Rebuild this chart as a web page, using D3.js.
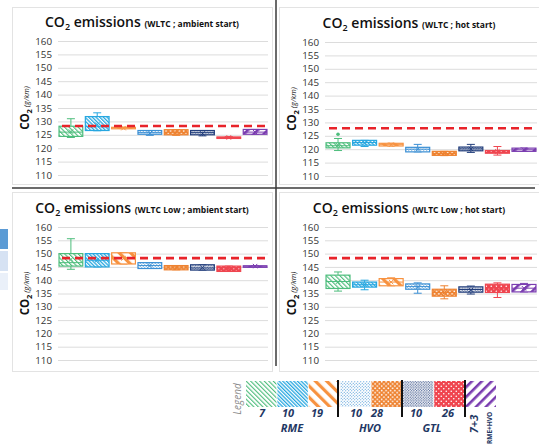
<!DOCTYPE html>
<html>
<head>
<meta charset="utf-8">
<script src="https://cdn.jsdelivr.net/npm/d3@7"></script>
<style>
  html, body { margin: 0; padding: 0; background: #fff; }
  svg { display: block; }
  text { font-family: "Open Sans", "DejaVu Sans", sans-serif; }
</style>
</head>
<body>
<svg id="chart" width="539" height="446"></svg>
<script>
// ---- data -------------------------------------------------------------
const fuels = ["RME 7", "RME 10", "RME 19", "HVO 10", "HVO 28", "GTL 10", "GTL 26", "RME+HVO 7+3"];
const fuelColors = ["#4dbd7c", "#27a7e0", "#f79240", "#3b8fd4", "#ee8230", "#233f7c", "#ef4650", "#7a3db0"];
const yTicks = [110, 115, 120, 125, 130, 135, 140, 145, 150, 155, 160];
const panelTitles = ["WLTC ; ambient start", "WLTC ; hot start", "WLTC Low ; ambient start", "WLTC Low ; hot start"];
// diesel reference (g/km) per panel
const referenceCO2 = [128.3, 127.8, 148.3, 148.3];

// per fuel: [min, q1, median, q3, max, mean]
const wltcAmbient = [
  [124.0, 124.4, 126.0, 128.2, 131.0, 126.2],
  [126.5, 126.6, 128.0, 131.8, 133.2, 128.8],
  [127.3, 127.3, 127.6, 127.8, 127.8, 127.5],
  [124.8, 125.2, 125.8, 126.6, 126.6, 125.6],
  [124.8, 125.0, 125.8, 126.9, 126.9, 125.8],
  [124.6, 125.0, 125.8, 126.6, 126.6, 125.5],
  [123.8, 123.9, 124.0, 124.2, 124.3, 124.0],
  [125.2, 125.2, 126.0, 127.0, 127.0, 126.0]
];
const wltcHot = [
  [119.5, 120.5, 121.3, 122.4, 124.0, 121.5],
  [121.0, 121.5, 122.5, 123.3, 123.3, 122.4],
  [121.2, 121.2, 121.7, 122.2, 122.2, 121.7],
  [119.0, 119.0, 120.0, 120.7, 121.8, 120.0],
  [117.6, 117.7, 118.4, 119.2, 119.2, 118.5],
  [118.8, 119.4, 120.1, 120.8, 121.8, 120.1],
  [117.8, 118.5, 118.9, 119.5, 121.0, 119.2],
  [119.2, 119.2, 119.8, 120.4, 120.4, 119.8]
];
const wltcLowAmbient = [
  [144.1, 145.3, 146.6, 150.0, 155.6, 147.8],
  [145.0, 145.0, 147.5, 150.0, 150.0, 147.6],
  [146.1, 146.1, 148.5, 150.3, 150.3, 148.2],
  [144.4, 144.4, 145.5, 146.6, 146.6, 145.5],
  [143.9, 143.9, 144.6, 145.5, 145.5, 144.7],
  [143.8, 143.8, 144.6, 145.8, 145.8, 144.7],
  [143.3, 143.3, 144.2, 145.3, 145.3, 144.3],
  [145.1, 145.1, 145.3, 145.4, 145.4, 145.3]
];
const wltcLowHot = [
  [135.9, 136.9, 139.5, 141.9, 143.1, 139.4],
  [136.4, 137.4, 138.3, 139.3, 140.0, 138.3],
  [137.9, 137.9, 139.3, 140.6, 140.9, 139.3],
  [135.1, 136.6, 137.6, 138.6, 139.0, 137.4],
  [133.0, 134.0, 135.3, 136.6, 137.9, 135.3],
  [134.8, 135.5, 136.5, 137.5, 137.8, 136.3],
  [133.5, 135.4, 136.8, 138.5, 139.0, 136.9],
  [135.6, 135.6, 137.0, 138.4, 138.8, 137.0]
];
// outliers per panel: [fuel index, value]
const outliers = [[], [[0, 125.6]], [], []];

const legendNumbers = ["7", "10", "19", "10", "28", "10", "26"];
const legendGroups = ["RME", "HVO", "GTL"];

// ---- layout -----------------------------------------------------------
const panels = [
  { data: wltcAmbient,    frame: [12, 7, 260, 177],  plot: [58, 268],  yr: [175, 41],  tx: 142, ty: 27,    lx: 25 },
  { data: wltcHot,        frame: [279, 7, 262, 177], plot: [325, 537], yr: [176, 42],  tx: 409, ty: 27.5,  lx: 292 },
  { data: wltcLowAmbient, frame: [12, 192, 260, 179], plot: [58, 268], yr: [360, 227], tx: 142, ty: 212.5, lx: 25 },
  { data: wltcLowHot,     frame: [279, 192, 262, 179], plot: [325, 537], yr: [360, 227], tx: 409, ty: 212.5, lx: 292 }
];

const svg = d3.select("#chart");
const defs = svg.append("defs");

// fill patterns for the eight fuels
function linePattern(id, color, size, width, angle) {
  const p = defs.append("pattern").attr("id", id).attr("patternUnits", "userSpaceOnUse")
    .attr("width", size).attr("height", size).attr("patternTransform", `rotate(${angle})`);
  p.append("rect").attr("width", size).attr("height", size).attr("fill", "#fff");
  p.append("rect").attr("width", width).attr("height", size).attr("fill", color);
}
function dotPattern(id, bg, dot, size, r) {
  const p = defs.append("pattern").attr("id", id).attr("patternUnits", "userSpaceOnUse")
    .attr("width", size).attr("height", size);
  p.append("rect").attr("width", size).attr("height", size).attr("fill", bg);
  p.append("circle").attr("cx", size / 4).attr("cy", size / 4).attr("r", r).attr("fill", dot);
  p.append("circle").attr("cx", size * 3 / 4).attr("cy", size * 3 / 4).attr("r", r).attr("fill", dot);
}
linePattern("pat0", fuelColors[0], 3.2, 1.1, -45);
linePattern("pat1", fuelColors[1], 2.6, 1.3, -45);
linePattern("pat2", fuelColors[2], 8, 3.2, -45);
dotPattern("pat3", "#fff", fuelColors[3], 3, 0.55);
dotPattern("pat4", fuelColors[4], "#fff", 4.4, 0.9);
dotPattern("pat5", "#fff", fuelColors[5], 2.6, 0.6);
dotPattern("pat6", fuelColors[6], "#fff", 5, 0.8);
linePattern("pat7", fuelColors[7], 7, 2.6, 45);

// partial table cells at the left edge
svg.append("rect").attr("x", 0).attr("y", 229).attr("width", 8).attr("height", 20).attr("fill", "#5b9bd5");
svg.append("rect").attr("x", 0).attr("y", 251).attr("width", 8).attr("height", 20).attr("fill", "#d6e2f3");
svg.append("rect").attr("x", 0).attr("y", 273).attr("width", 8).attr("height", 17).attr("fill", "#eaf0f9");

panels.forEach((pn, pi) => {
  const g = svg.append("g");
  const [fx, fy, fw, fh] = pn.frame;
  g.append("rect").attr("x", fx + 0.5).attr("y", fy + 0.5).attr("width", fw).attr("height", fh)
    .attr("fill", "#fff").attr("stroke", "#e3e3e3").attr("stroke-width", 1);

  const y = d3.scaleLinear().domain([110, 160]).range(pn.yr);
  const x = d3.scaleBand().domain(fuels).range(pn.plot).paddingInner(0.06).paddingOuter(0.02);

  // gridlines and tick labels via an axis
  const axis = d3.axisLeft(y).tickValues(yTicks).tickSize(-(pn.plot[1] - pn.plot[0])).tickPadding(6).tickFormat(d3.format("d"));
  const ax = g.append("g").attr("transform", `translate(${pn.plot[0]},0)`).call(axis);
  ax.select(".domain").remove();
  ax.selectAll(".tick line").attr("stroke", "#dcdcdc").attr("stroke-width", 1);
  ax.selectAll(".tick text").attr("fill", "#333").style("font-size", "9.8px").style("font-family", "'Open Sans', sans-serif");

  // title
  const t = g.append("text").attr("x", pn.tx).attr("y", pn.ty).attr("text-anchor", "middle").attr("fill", "#111");
  t.append("tspan").style("font-size", "14px").style("font-weight", 600).text("CO");
  t.append("tspan").style("font-size", "9px").style("font-weight", 600).attr("dy", 3).text("2");
  t.append("tspan").style("font-size", "14px").style("font-weight", 600).attr("dy", -3).text(" emissions ");
  t.append("tspan").style("font-size", "8.5px").style("font-weight", 700).text("(" + panelTitles[pi] + ")");

  // y-axis label
  const cy = (pn.yr[0] + pn.yr[1]) / 2;
  const yl = g.append("text").attr("transform", `translate(${pn.lx + 4},${cy}) rotate(-90)`)
    .attr("text-anchor", "middle").attr("fill", "#111");
  yl.append("tspan").style("font-size", "11.5px").style("font-weight", 700).text("CO");
  yl.append("tspan").style("font-size", "7.5px").style("font-weight", 700).attr("dy", 3).text("2");
  yl.append("tspan").style("font-size", "7.5px").style("font-style", "italic").attr("dy", -3).text(" (g/km)");

  // boxes
  const bw = x.bandwidth();
  pn.data.forEach((d, i) => {
    const [mn, q1, med, q3, mx, mean] = d;
    const cx = x(fuels[i]) + bw / 2;
    const col = fuelColors[i];
    const bg = g.append("g");
    const cap = 4;
    bg.append("line").attr("x1", cx).attr("x2", cx).attr("y1", y(mx)).attr("y2", y(q3)).attr("stroke", col);
    bg.append("line").attr("x1", cx).attr("x2", cx).attr("y1", y(q1)).attr("y2", y(mn)).attr("stroke", col);
    bg.append("line").attr("x1", cx - cap).attr("x2", cx + cap).attr("y1", y(mx)).attr("y2", y(mx)).attr("stroke", col);
    bg.append("line").attr("x1", cx - cap).attr("x2", cx + cap).attr("y1", y(mn)).attr("y2", y(mn)).attr("stroke", col);
    const h = Math.max(y(q1) - y(q3), 1.5);
    bg.append("rect").attr("x", x(fuels[i]) + 0.5).attr("y", y(q3)).attr("width", bw - 1).attr("height", h)
      .attr("fill", `url(#pat${i})`).attr("stroke", col).attr("stroke-width", 1.2);
    bg.append("line").attr("x1", x(fuels[i]) + 0.5).attr("x2", x(fuels[i]) + bw - 0.5)
      .attr("y1", y(med)).attr("y2", y(med)).attr("stroke", col).attr("stroke-width", 1);
    const m = 2.2, my = y(mean);
    bg.append("path").attr("d", `M${cx - m},${my - m}L${cx + m},${my + m}M${cx - m},${my + m}L${cx + m},${my - m}`)
      .attr("stroke", col).attr("stroke-width", 1);
  });
  outliers[pi].forEach(([fi, v]) => {
    g.append("circle").attr("cx", x(fuels[fi]) + bw / 2).attr("cy", y(v)).attr("r", 1.8).attr("fill", fuelColors[fi]);
  });

  // reference line
  g.append("line").attr("x1", pn.plot[0] + 4).attr("x2", pn.plot[1])
    .attr("y1", y(referenceCO2[pi])).attr("y2", y(referenceCO2[pi]))
    .attr("stroke", "#e8232a").attr("stroke-width", 2.6).attr("stroke-dasharray", "8,5");
});

// dividers between the four charts
svg.append("line").attr("x1", 276).attr("x2", 276).attr("y1", 0).attr("y2", 366).attr("stroke", "#3a3a3a").attr("stroke-width", 1.5);
svg.append("line").attr("x1", 12).attr("x2", 535).attr("y1", 188).attr("y2", 188).attr("stroke", "#3a3a3a").attr("stroke-width", 1.5);

// ---- legend -------------------------------------------------------------
const lg = svg.append("g");
const lx = d3.scaleBand().domain(fuels).range([246, 496]).paddingInner(0.03);
const sep = [338, 402, 465];
fuels.forEach((f, i) => {
  lg.append("rect").attr("x", lx(f)).attr("y", 381).attr("width", lx.bandwidth()).attr("height", 26)
    .attr("fill", `url(#pat${i})`);
});
sep.forEach(sx => lg.append("line").attr("x1", sx).attr("x2", sx).attr("y1", 380).attr("y2", 417)
  .attr("stroke", "#111").attr("stroke-width", 2));
lg.append("text").attr("transform", "translate(241,399) rotate(-90)").attr("text-anchor", "middle")
  .attr("fill", "#8a8a8a").style("font-size", "10px").style("font-style", "italic").text("Legend");
const numX = [262, 288, 317, 356, 377, 416, 448];
legendNumbers.forEach((n, i) => {
  lg.append("text").attr("x", numX[i]).attr("y", 417).attr("text-anchor", "middle")
    .attr("fill", "#1f3864").style("font-size", "11px").style("font-weight", 700).style("font-style", "italic").text(n);
});
const grpX = [292, 370, 432];
legendGroups.forEach((n, i) => {
  lg.append("text").attr("x", grpX[i]).attr("y", 432).attr("text-anchor", "middle")
    .attr("fill", "#1f3864").style("font-size", "11px").style("font-weight", 700).style("font-style", "italic").text(n);
});
lg.append("text").attr("transform", "translate(478,424) rotate(-90)").attr("text-anchor", "middle")
  .attr("fill", "#1f3864").style("font-size", "11px").style("font-weight", 700).style("font-style", "italic").text("7+3");
lg.append("text").attr("transform", "translate(492,444) rotate(-90)").attr("text-anchor", "start")
  .attr("fill", "#1f3864").style("font-size", "6.5px").style("font-weight", 700).text("RME+HVO");
</script>
</body>
</html>
